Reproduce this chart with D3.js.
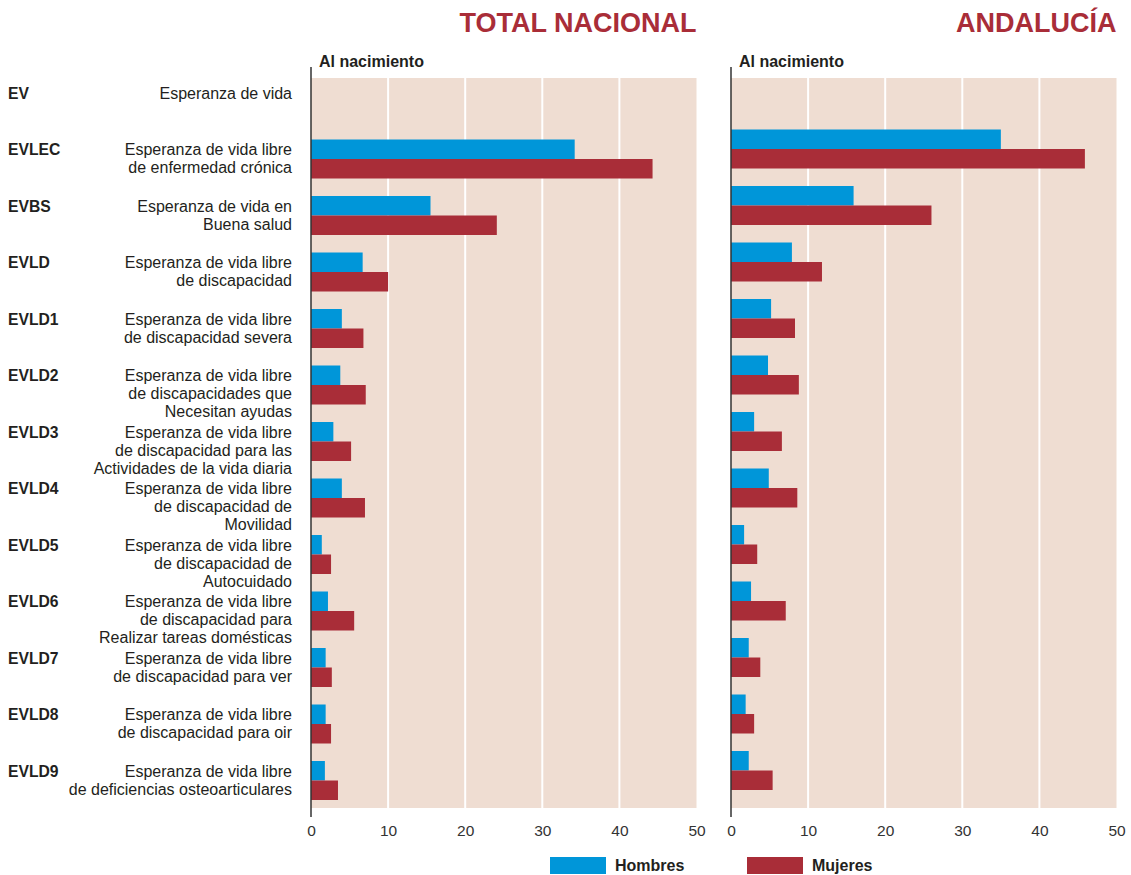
<!DOCTYPE html>
<html><head><meta charset="utf-8">
<script src="https://cdn.jsdelivr.net/npm/d3@7"></script>
<style>body{margin:0;background:#fff}svg{display:block;font-family:"Liberation Sans",Arial,sans-serif}</style>
</head><body><svg id="c" width="1131" height="875"></svg>
<script>
const codes = ["EV","EVLEC","EVBS","EVLD","EVLD1","EVLD2","EVLD3","EVLD4","EVLD5","EVLD6","EVLD7","EVLD8","EVLD9"];
const descriptions = [
  ["Esperanza de vida"],
  ["Esperanza de vida libre","de enfermedad crónica"],
  ["Esperanza de vida en","Buena salud"],
  ["Esperanza de vida libre","de discapacidad"],
  ["Esperanza de vida libre","de discapacidad severa"],
  ["Esperanza de vida libre","de discapacidades que","Necesitan ayudas"],
  ["Esperanza de vida libre","de discapacidad para las","Actividades de la vida diaria"],
  ["Esperanza de vida libre","de discapacidad de","Movilidad"],
  ["Esperanza de vida libre","de discapacidad de","Autocuidado"],
  ["Esperanza de vida libre","de discapacidad para","Realizar tareas domésticas"],
  ["Esperanza de vida libre","de discapacidad para ver"],
  ["Esperanza de vida libre","de discapacidad para oir"],
  ["Esperanza de vida libre","de deficiencias osteoarticulares"]
];
const nacionalHombres = [null,34.2,15.5,6.7,4.0,3.8,2.9,4.0,1.4,2.2,1.9,1.9,1.8];
const nacionalMujeres = [null,44.3,24.1,10.0,6.8,7.1,5.2,7.0,2.6,5.6,2.7,2.6,3.5];
const andaluciaHombres = [null,35.0,15.9,7.9,5.2,4.8,3.0,4.9,1.7,2.6,2.3,1.9,2.3];
const andaluciaMujeres = [null,45.9,26.0,11.8,8.3,8.8,6.6,8.6,3.4,7.1,3.8,3.0,5.4];
const tickValues = [0,10,20,30,40,50];
const panelTitles = ["TOTAL NACIONAL","ANDALUCÍA"];
const subTitle = "Al nacimiento";
const seriesNames = ["Hombres","Mujeres"];

const BLUE = "#0096d9", RED = "#a92d38", BG = "#efddd2", TXT = "#231f20";
const FS = 16;
const svg = d3.select("#c");
const y = d3.scalePoint().domain(codes).range([93, 771]);

// row labels
const rows = svg.append("g");
codes.forEach((c, i) => {
  rows.append("text").attr("x", 8).attr("y", y(c)).attr("dy", "0.36em")
    .attr("font-weight", "bold").attr("font-size", 15.7).attr("fill", TXT).text(c);
  descriptions[i].forEach((line, j) => {
    rows.append("text").attr("x", 292).attr("y", y(c) + j * 18).attr("dy", "0.36em")
      .attr("text-anchor", "end").attr("font-size", FS).attr("fill", TXT).text(line);
  });
});

const panels = [
  {x0: 311, title: panelTitles[0], h: nacionalHombres, m: nacionalMujeres, off: -10},
  {x0: 731, title: panelTitles[1], h: andaluciaHombres, m: andaluciaMujeres, off: -20}
];
panels.forEach(p => {
  const x = d3.scaleLinear().domain([0, 50]).range([p.x0, p.x0 + 385.5]);
  const g = svg.append("g");
  g.append("rect").attr("x", x(0)).attr("y", 78).attr("width", x(50) - x(0)).attr("height", 730).attr("fill", BG);
  g.selectAll("line.grid").data(tickValues.filter(t => t > 0 && t < 50)).join("line")
    .attr("x1", d => x(d)).attr("x2", d => x(d)).attr("y1", 78).attr("y2", 808)
    .attr("stroke", "#fff").attr("stroke-width", 2);
  const bh = 19.5;
  g.selectAll("rect.h").data(codes.map((c, i) => ({c, v: p.h[i]})).filter(d => d.v != null)).join("rect")
    .attr("x", x(0)).attr("y", d => y(d.c) + p.off).attr("width", d => x(d.v) - x(0)).attr("height", bh).attr("fill", BLUE);
  g.selectAll("rect.m").data(codes.map((c, i) => ({c, v: p.m[i]})).filter(d => d.v != null)).join("rect")
    .attr("x", x(0)).attr("y", d => y(d.c) + p.off + bh).attr("width", d => x(d.v) - x(0)).attr("height", bh).attr("fill", RED);
  g.append("line").attr("x1", x(0)).attr("x2", x(0)).attr("y1", 67).attr("y2", 817)
    .attr("stroke", "#333").attr("stroke-width", 1.5);
  const ax = g.append("g").attr("transform", "translate(0,822)")
    .call(d3.axisBottom(x).tickValues(tickValues).tickSize(0).tickFormat(d3.format("d")));
  ax.select(".domain").remove();
  ax.selectAll("text").attr("font-size", 15.5).attr("fill", "#333").attr("font-family", "Liberation Sans, Arial, sans-serif");
  g.append("text").attr("x", x(0) + 8).attr("y", 61).attr("dy", "0.36em").attr("font-weight", "bold")
    .attr("font-size", FS).attr("fill", TXT).text(subTitle);
  g.append("text").attr("x", x(50)).attr("y", 22).attr("dy", "0.36em").attr("text-anchor", "end")
    .attr("font-weight", "bold").attr("font-size", 27).attr("fill", RED).text(p.title);
});

// legend
const leg = svg.append("g");
[[550, BLUE, seriesNames[0]], [747, RED, seriesNames[1]]].forEach(([lx, col, name]) => {
  leg.append("rect").attr("x", lx).attr("y", 857).attr("width", 56).attr("height", 17).attr("fill", col);
  leg.append("text").attr("x", lx + 65).attr("y", 865).attr("dy", "0.36em").attr("font-weight", "bold")
    .attr("font-size", FS).attr("fill", TXT).text(name);
});
</script></body></html>
